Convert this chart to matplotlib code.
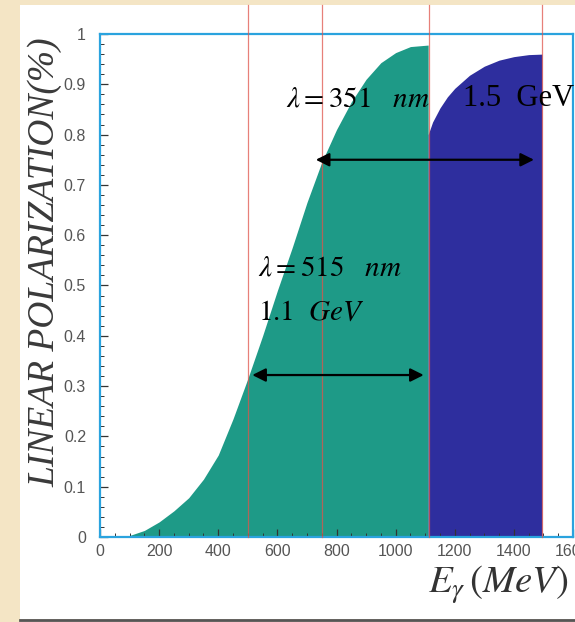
import numpy as np
import matplotlib.pyplot as plt
from matplotlib.patches import Rectangle
from matplotlib.ticker import MultipleLocator, FormatStrFormatter

plt.rcParams['mathtext.fontset'] = 'stix'

# polarization for the 515 nm laser (1.1 GeV electrons)
e_green = [0, 50, 100, 150, 200, 250, 300, 350, 400, 450, 500, 550, 600, 650,
           700, 750, 800, 850, 900, 950, 1000, 1050, 1110]
p_green = [0, 0.0, 0.003, 0.013, 0.03, 0.052, 0.078, 0.115, 0.163, 0.235, 0.315, 0.40,
           0.49, 0.575, 0.665, 0.745, 0.81, 0.865, 0.91, 0.943, 0.963, 0.975, 0.978]

# polarization for the 351 nm laser (1.5 GeV electrons)
e_blue = [1110, 1125, 1150, 1175, 1200, 1250, 1300, 1350, 1400, 1450, 1495]
p_blue = [0.80, 0.825, 0.853, 0.875, 0.892, 0.918, 0.936, 0.948, 0.955, 0.959, 0.96]

edges = [500, 750, 1112, 1495]

fig = plt.figure(figsize=(5.75, 6.22), dpi=100, facecolor='#f4e5c5')
fig.patches.append(Rectangle((20 / 575, 3 / 622), 1, 614 / 622, transform=fig.transFigure,
                             facecolor='white', edgecolor='none', zorder=-10))
fig.lines.append(plt.Line2D([20 / 575, 1], [2 / 622, 2 / 622], transform=fig.transFigure,
                            color='#555555', lw=2, zorder=-5))

ax = fig.add_axes([100 / 575, 85 / 622, 473 / 575, 503 / 622])
ax.patch.set_alpha(0)
ax.fill_between(e_green, p_green, 0, color='#1e9a87', lw=0)
ax.fill_between(e_blue, p_blue, 0, color='#2e2e9e', lw=0)

for e in edges:
    ax.axvline(e, 0, 1.058, color='#e0554c', lw=0.9, alpha=0.75, clip_on=False, zorder=3)

ax.set_xlim(0, 1600)
ax.set_ylim(0, 1)
for s in ax.spines.values():
    s.set_color('#2aa3de')
    s.set_linewidth(1.6)

ax.xaxis.set_major_locator(MultipleLocator(200))
ax.xaxis.set_minor_locator(MultipleLocator(50))
ax.yaxis.set_major_locator(MultipleLocator(0.1))
ax.yaxis.set_minor_locator(MultipleLocator(0.02))
ax.yaxis.set_major_formatter(FormatStrFormatter('%g'))
ax.tick_params(which='both', direction='in', color='#333333', labelcolor='#555555',
               labelsize=11.5, top=False, right=False)
ax.tick_params(which='major', length=6, width=0.9)
ax.tick_params(which='minor', length=3, width=0.7)
ax.tick_params(axis='y', which='major', pad=10)
ax.tick_params(axis='x', which='major', pad=5)
for t in ax.get_xticklabels() + ax.get_yticklabels():
    t.set_fontfamily('Liberation Sans')

ax.set_ylabel('LINEAR POLARIZATION(%)', family='Liberation Serif', style='italic',
              fontsize=27, color='#3a3a3a')
ax.yaxis.set_label_coords(-0.08, 0.547)
fig.text(0.99, 0.06, r'$E_\gamma\,(MeV)$', fontsize=28, color='#333333', ha='right', va='center')

# double arrows marking the useful energy ranges
arrow = dict(arrowstyle='<|-|>', color='black', lw=1.6, mutation_scale=20, shrinkA=0, shrinkB=0)
ax.annotate('', xy=(515, 0.322), xytext=(1095, 0.322), arrowprops=arrow)
ax.annotate('', xy=(730, 0.75), xytext=(1468, 0.75), arrowprops=arrow)

ax.text(628, 0.872, r'$\lambda = 351\ \ \ \mathit{nm}$', fontsize=21, color='black', va='center', zorder=5)
ax.text(1228, 0.872, '1.5  GeV', family='Liberation Serif', fontsize=22, color='black',
        va='center', zorder=5)
ax.text(535, 0.535, r'$\lambda = 515\ \ \ \mathit{nm}$', fontsize=21, color='black', va='center', zorder=5)
ax.text(535, 0.447, r'$1.1\ \ \mathit{GeV}$', fontsize=21, color='black', va='center', zorder=5)

fig.savefig('out.png', dpi=100, facecolor=fig.get_facecolor())
